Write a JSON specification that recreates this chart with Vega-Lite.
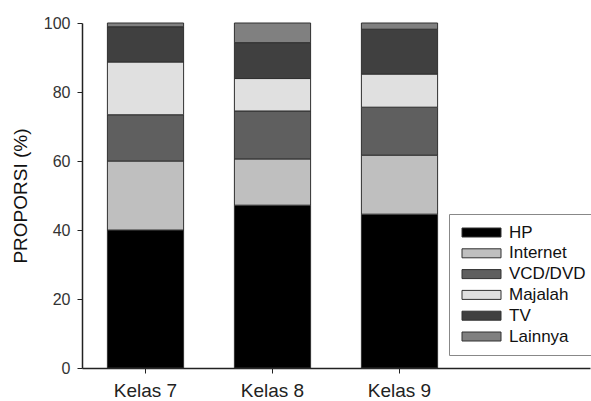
{
  "$schema": "https://vega.github.io/schema/vega-lite/v6.json",
  "width": 508,
  "height": 345,
  "autosize": {"type": "none"},
  "padding": {"left": 82, "top": 23, "right": 1, "bottom": 33},
  "background": "white",
  "config": {
    "view": {"stroke": null},
    "font": "Liberation Sans"
  },
  "data": {
    "values": [
      {"kelas": "Kelas 7", "media": "HP", "idx": 1, "nilai": 40.0},
      {"kelas": "Kelas 7", "media": "Internet", "idx": 2, "nilai": 20.0},
      {"kelas": "Kelas 7", "media": "VCD/DVD", "idx": 3, "nilai": 13.4},
      {"kelas": "Kelas 7", "media": "Majalah", "idx": 4, "nilai": 15.3},
      {"kelas": "Kelas 7", "media": "TV", "idx": 5, "nilai": 10.2},
      {"kelas": "Kelas 7", "media": "Lainnya", "idx": 6, "nilai": 1.1},
      {"kelas": "Kelas 8", "media": "HP", "idx": 1, "nilai": 47.2},
      {"kelas": "Kelas 8", "media": "Internet", "idx": 2, "nilai": 13.4},
      {"kelas": "Kelas 8", "media": "VCD/DVD", "idx": 3, "nilai": 13.9},
      {"kelas": "Kelas 8", "media": "Majalah", "idx": 4, "nilai": 9.4},
      {"kelas": "Kelas 8", "media": "TV", "idx": 5, "nilai": 10.4},
      {"kelas": "Kelas 8", "media": "Lainnya", "idx": 6, "nilai": 5.7},
      {"kelas": "Kelas 9", "media": "HP", "idx": 1, "nilai": 44.6},
      {"kelas": "Kelas 9", "media": "Internet", "idx": 2, "nilai": 17.1},
      {"kelas": "Kelas 9", "media": "VCD/DVD", "idx": 3, "nilai": 13.9},
      {"kelas": "Kelas 9", "media": "Majalah", "idx": 4, "nilai": 9.6},
      {"kelas": "Kelas 9", "media": "TV", "idx": 5, "nilai": 13.0},
      {"kelas": "Kelas 9", "media": "Lainnya", "idx": 6, "nilai": 1.8}
    ]
  },
  "mark": {"type": "bar", "stroke": "#303030", "strokeWidth": 1},
  "encoding": {
    "x": {
      "field": "kelas",
      "type": "nominal",
      "scale": {"domain": ["Kelas 7", "Kelas 8", "Kelas 9", " "], "paddingInner": 0.4, "paddingOuter": 0.2},
      "axis": {
        "values": ["Kelas 7", "Kelas 8", "Kelas 9"],
        "title": null,
        "labelAngle": 0,
        "labelFontSize": 19,
        "labelColor": "#222222",
        "labelPadding": 8,
        "tickSize": 5,
        "tickColor": "#222222",
        "domainColor": "#222222",
        "domainWidth": 1.5
      }
    },
    "y": {
      "field": "nilai",
      "type": "quantitative",
      "stack": "zero",
      "scale": {"domain": [0, 100], "nice": false},
      "axis": {
        "values": [0, 20, 40, 60, 80, 100],
        "title": "PROPORSI (%)",
        "titleFontSize": 19,
        "titleFontWeight": "normal",
        "titleColor": "#111111",
        "titlePadding": 13,
        "grid": false,
        "labelFontSize": 16,
        "labelColor": "#333333",
        "labelPadding": 7,
        "tickSize": 5,
        "tickColor": "#222222",
        "domainColor": "#222222",
        "domainWidth": 1.5
      }
    },
    "color": {
      "field": "media",
      "type": "nominal",
      "scale": {
        "domain": ["HP", "Internet", "VCD/DVD", "Majalah", "TV", "Lainnya"],
        "range": ["#000000", "#bfbfbf", "#5f5f5f", "#e0e0e0", "#404040", "#808080"]
      },
      "legend": {
        "title": null,
        "orient": "none",
        "legendX": 367,
        "legendY": 191,
        "padding": 10,
        "strokeColor": "#888888",
        "fillColor": "white",
        "labelFontSize": 17,
        "labelColor": "#111111",
        "symbolType": "M-3.9,-0.9H3.9V0.9H-3.9Z",
        "symbolSize": 100,
        "symbolOffset": 14,
        "symbolStrokeColor": "#303030",
        "symbolStrokeWidth": 1,
        "labelOffset": 19,
        "rowPadding": 2.8,
        "labelLimit": 200
      }
    },
    "order": {"field": "idx", "type": "quantitative", "sort": "ascending"}
  }
}
